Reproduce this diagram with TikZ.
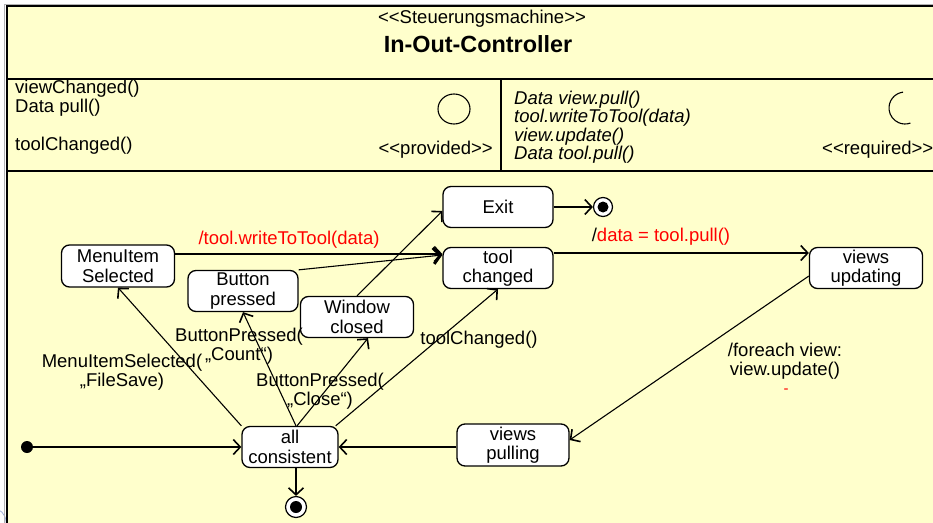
\documentclass[tikz,border=0pt]{standalone}
\usepackage{fontspec}
\setmainfont{Liberation Sans}
\usetikzlibrary{arrows.meta,calc}
\definecolor{bgyellow}{HTML}{FFFFCC}
\definecolor{logoblue}{RGB}{160,175,215}
\begin{document}
\begin{tikzpicture}[x=1pt,y=-1pt,
  every node/.style={font=\fontsize{18.5}{19.5}\selectfont, inner sep=0pt},
  stbox/.style={draw, fill=white, rounded corners=8pt, line width=1.3pt, align=center,
    minimum width=110pt, minimum height=41pt},
  trans/.style={line width=1.1pt, -{Straight Barb[length=7pt,width=15pt,line width=1.6pt]}},
  boldtrans/.style={line width=1.1pt, -{Straight Barb[length=7pt,width=16pt,line width=3pt]}},
  lbl/.style={align=center},
  ital/.style={font=\fontsize{18.5}{19.5}\selectfont\itshape, anchor=west},
  pseudo/.style={circle, fill=black},
  finalring/.style={circle, draw, fill=white, line width=1.2pt},
]
\useasboundingbox (0,0) rectangle (933,522);
% frame
\fill[bgyellow] (6,6) rectangle (940,530);
\draw[logoblue, line width=0.8pt] (-8,522) circle[radius=14pt];
\draw[gray!60, line width=1pt] (4.5,530) -- (4.5,4.5) -- (940,4.5);
\draw[black, line width=2pt] (6.5,530) -- (6.5,6) -- (940,6);
\draw[line width=1.5pt] (6.5,79) -- (940,79);
\draw[line width=2pt] (6.5,171) -- (940,171);
\draw[line width=1.5pt] (501,79) -- (501,171);
% header
\node (stereo) at (482,19) {<{}<Steuerungsmachine>{}>};
\node[font=\fontsize{23.4}{27}\selectfont\bfseries] (title) at (478,44) {In-Out-Controller};
% provided
\node[anchor=west] (p1) at (15,88.5) {viewChanged()};
\node[anchor=west] (p2) at (15,107.5) {Data pull()};
\node[anchor=west] (p3) at (15,146) {toolChanged()};
\node[anchor=east] (prov) at (493,150) {<{}<provided>{}>};
\draw[line width=1.1pt] (454,109) ellipse[x radius=16pt, y radius=15pt];
% required
\node[ital] (r1) at (514,100) {Data view.pull()};
\node[ital] (r2) at (514,118) {tool.writeToTool(data)};
\node[ital] (r3) at (514,137) {view.update()};
\node[ital] (r4) at (514,155) {Data tool.pull()};
\node[anchor=west] (req) at (822,150) {<{}<required>{}>};
\draw[line width=1.1pt] (905,108) ++(97:16pt and 16pt) arc[start angle=97, end angle=290, x radius=16pt, y radius=16pt];
% states
\node[stbox] (exit) at (498,207) {Exit};
\node[stbox] (toolch) at (498,268) {tool\\changed};
\node[stbox, minimum width=113pt, minimum height=42pt] (menu) at (118,266) {MenuItem\\Selected};
\node[stbox] (button) at (243,291) {Button\\pressed};
\node[stbox, minimum width=113pt] (window) at (357,317) {Window\\closed};
\node[stbox, minimum width=113pt] (vupd) at (866,268) {views\\updating};
\node[stbox, minimum width=112pt, minimum height=42pt] (vpull) at (513,445) {views\\pulling};
\node[stbox, minimum width=96pt] (allc) at (290,447) {all\\consistent};
% pseudostates
\node[pseudo, minimum size=12pt] (init) at (27,447) {};
\node[finalring, minimum size=19pt] (fin1) at (603,207) {};
\node[pseudo, minimum size=11pt] (fin1c) at (fin1) {};
\node[finalring, minimum size=21pt] (fin2) at (296,507) {};
\node[pseudo, minimum size=12pt] (fin2c) at (fin2) {};
% transitions
\draw[trans] (init) -- (allc.west);
\draw[trans] (allc.south -| fin2) -- (fin2.north);
\draw[trans] (allc.east -| vpull.west) -- (allc.east);
\draw[trans] ($(vupd.west)+(0,8)$) -- ($(vpull.east)+(0,-5)$);
\draw[trans] ($(toolch.east)+(0,-15)$) -- ($(vupd.west)+(0,-15)$);
\draw[trans] ($(menu.east)+(0,-12)$) -- ($(toolch.west)+(0,-14)$);
\draw[boldtrans] (button.north east) -- ($(toolch.west)+(0,-13)$);
\draw[trans] (window.north) -- ($(exit.west)+(0,4)$);
\draw[trans] (allc.north west) -- (menu.south);
\draw[trans] ($(allc.north)+(6,0)$) -- (button.south);
\draw[trans] ($(allc.north)+(7,0)$) -- ($(window.south)+(11,0)$);
\draw[trans] ($(allc.north east)+(-3,0)$) -- (toolch.south);
\draw[trans] (exit.east) -- (fin1.west);
% labels
\node[text=red] (lw) at (289,240) {/tool.writeToTool(data)};
\node (lp) at (661,237) {/\textcolor{red}{data = tool.pull()}};
\node[lbl] (lf) at (785,361) {/foreach view:\\view.update()};
\node[text=red, font=\fontsize{15}{15}\selectfont] (ld) at (786,391) {-};
\node[lbl] (lm) at (122,372) {MenuItemSelected(\\„FileSave)};
\node[lbl] (lc) at (239,346) {ButtonPressed(\\„Count“)};
\node[lbl] (lcl) at (320,391) {ButtonPressed(\\„Close“)};
\node (lt) at (479,340) {toolChanged()};
\end{tikzpicture}
\end{document}
